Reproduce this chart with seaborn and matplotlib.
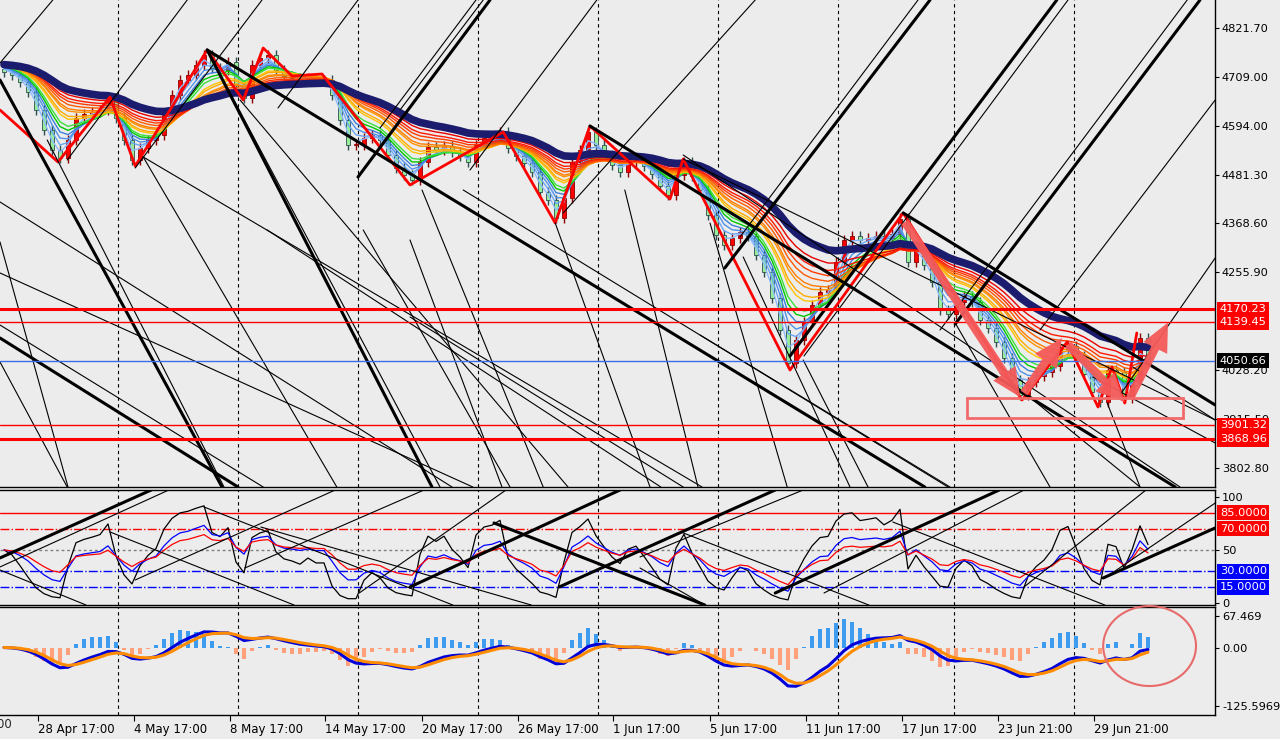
import numpy as np
import seaborn as sns
import matplotlib
matplotlib.use("Agg")
import matplotlib.pyplot as plt
from matplotlib.patches import Rectangle, Ellipse, FancyArrowPatch

# ---- price data: one bar every 8 hours (roughly two H4 candles) ----
first_open = 4726
closes = [4720, 4713, 4697, 4673, 4632, 4585, 4539, 4520, 4562, 4613,
          4622, 4627, 4632, 4655, 4613, 4562, 4516, 4544, 4562, 4574,
          4620, 4666, 4701, 4713, 4736, 4759, 4729, 4724, 4743, 4690,
          4659, 4736, 4752, 4759, 4724, 4710, 4706, 4701, 4706, 4701,
          4701, 4666, 4608, 4550, 4550, 4567, 4574, 4562, 4527, 4497,
          4481, 4469, 4511, 4546, 4539, 4548, 4534, 4525, 4511, 4550,
          4567, 4571, 4581, 4544, 4525, 4509, 4488, 4442, 4423, 4381,
          4428, 4511, 4539, 4581, 4550, 4527, 4504, 4488, 4511, 4516,
          4502, 4483, 4455, 4435, 4481, 4511, 4479, 4446, 4388, 4342,
          4319, 4335, 4349, 4340, 4296, 4256, 4196, 4122, 4045, 4099,
          4140, 4180, 4210, 4214, 4279, 4330, 4340, 4330, 4335, 4340,
          4335, 4344, 4380, 4279, 4307, 4272, 4233, 4168, 4159, 4187,
          4200, 4187, 4145, 4126, 4094, 4057, 4006, 3972, 4001, 4015,
          4024, 4038, 4075, 4085, 4061, 4020, 3978, 3955, 4029, 4024,
          3965, 4005, 4102, 4050.66]
wick = 12
ribbon_seed = 4738
rsi_seed_move = 15

# zigzag pivots (bar, price)
zz_bars = [-0.5, 6.75, 13.25, 16.4, 25.4, 29.9, 32.4, 36.0, 39.75, 50.75, 62.4,
           68.9, 73.25, 83.25, 84.9, 98.25, 112.4, 127.25, 132.9, 136.75, 138.5,
           140.1, 141.6]
zz_prices = [4631.6, 4511.1, 4661.8, 4501.8, 4770.7, 4654.8, 4775.3, 4710.4, 4715.1,
             4457.8, 4580.6, 4369.7, 4594.5, 4425.3, 4518.0, 4028.9, 4392.9, 3959.4,
             4093.8, 3943.2, 4035.9, 3952.4, 4114.7]

# drawn trend lines (bar0, price0, bar1, price1)
top_thick = [(25.4, 4770.7, 53.5, 3757.7), (-0.5, 4701.2, 27.25, 3757.7),
             (-0.5, 4103.1, 29.25, 3757.7), (73.25, 4594.5, 146.4, 3757.7),
             (25.4, 4770.7, 115.1, 3757.7), (44.25, 4476.3, 60.75, 4886.6),
             (90.1, 4265.4, 115.75, 4886.6), (98.25, 4061.4, 131.6, 4886.6),
             (118.9, 4135.6, 149.5, 4886.6), (112.4, 4392.9, 151.4, 3947.8)]
top_thin = [(-0.5, 4740.6, 6.1, 4886.6), (7.9, 4515.7, 22.9, 4886.6),
            (16.4, 4497.2, 32.25, 4886.6), (34.25, 4636.3, 44.25, 4886.6),
            (47.0, 4589.9, 59.0, 4886.6), (49.5, 4631.6, 59.9, 4886.6),
            (58.25, 4492.5, 74.1, 4886.6), (69.9, 4392.9, 93.9, 4886.6),
            (92.0, 4337.2, 114.25, 4886.6), (100.0, 4061.4, 133.0, 4886.6),
            (117.0, 4121.7, 147.9, 4886.6), (129.5, 4121.7, 151.4, 4654.8),
            (139.5, 3971.0, 151.4, 4288.6), (-0.5, 4325.6, 8.0, 3757.7),
            (-0.5, 4047.5, 7.9, 3757.7), (5.4, 4562.1, 27.5, 3757.7),
            (17.4, 4522.7, 41.6, 3757.7), (26.4, 4735.9, 54.5, 3757.7),
            (29.5, 4654.8, 70.5, 3757.7), (44.9, 4353.5, 63.25, 3757.7),
            (50.75, 4330.3, 62.25, 3757.7), (52.25, 4446.2, 67.4, 3757.7),
            (68.9, 4369.7, 80.75, 3757.7), (77.6, 4446.2, 86.75, 3757.7),
            (88.25, 4369.7, 97.9, 3757.7), (92.4, 4290.9, 105.75, 3757.7),
            (-0.5, 4418.4, 56.0, 3757.7), (-0.5, 4253.8, 58.6, 3757.7),
            (-0.5, 4133.2, 32.4, 3757.7), (17.4, 4522.7, 87.25, 3757.7),
            (32.9, 4353.5, 82.1, 3757.7), (57.4, 4446.2, 118.0, 3757.7),
            (50.75, 4151.8, 84.9, 3757.7), (84.9, 4527.3, 147.0, 3757.7),
            (87.0, 4110.1, 118.25, 3757.7), (136.1, 4012.7, 151.4, 3859.7),
            (141.1, 4035.9, 151.4, 3913.0), (99.9, 4052.1, 108.0, 3757.7),
            (118.9, 4137.9, 130.75, 3757.7), (124.5, 4022.0, 142.0, 3757.7),
            (137.9, 3952.4, 142.0, 3757.7), (84.9, 4518.0, 151.4, 3913.0)]
osc_thick = [(-0.5, 42.5, 18.4, 106.6), (50.75, 15.1, 77.0, 106.6),
             (69.4, 15.1, 96.4, 106.6), (96.4, 9.4, 124.4, 106.6),
             (137.4, 23.6, 151.4, 70.8), (61.25, 75.5, 87.6, -1.9)]
osc_thin = [(-0.5, 34.0, 20.6, 106.6), (16.4, 21.7, 41.4, 106.6),
            (30.1, 33.0, 52.5, 106.6), (44.4, 9.4, 62.75, 106.6),
            (79.5, 43.4, 99.9, 106.6), (102.5, 9.4, 127.5, 106.6),
            (127.5, 15.1, 142.75, 106.6), (137.6, 23.6, 151.4, 94.3),
            (-0.5, 31.1, 10.25, -1.9), (13.25, 67.0, 36.25, -1.9),
            (25.0, 90.6, 56.1, -1.9), (32.1, 71.7, 65.9, -1.9),
            (84.6, 67.0, 108.1, -1.9), (111.1, 76.4, 137.6, -1.9),
            (79.5, 33.0, 87.6, -1.9)]

# arrows (bar0, price0, bar1, price1) and the support box
arrows = [(112.6, 4372.0, 127.0, 3966.4), (127.5, 3975.6, 132.25, 4103.1),
          (133.0, 4087.9, 140.1, 3954.7), (140.75, 3964.0, 145.5, 4138.9)]
zone_bars = (120.4, 147.4)
zone_prices = (3918.3, 3964.7)

red_levels = [4170.23, 4139.45, 3901.32, 3868.96]
red_widths = [2.2, 1.0, 1.0, 2.2]
last_price = 4050.66
price_ticks = [4821.70, 4709.00, 4594.00, 4481.30, 4368.60, 4255.90, 4028.20, 3915.50, 3802.80]
macd_ticks = [67.469, 0.0, -125.5969]
macd_labels = ["67.469", "0.00", "-125.5969"]

grid_bars = [14.25, 29.25, 44.25, 59.25, 74.25, 89.25, 104.25, 118.75, 133.75]
date_ticks = [-8.6, 4.25, 16.25, 28.25, 40.1, 52.25, 64.25, 76.1, 88.25, 100.25,
              112.25, 124.25, 136.25]
date_labels = ["22 Apr 17:00", "28 Apr 17:00", "4 May 17:00", "8 May 17:00", "14 May 17:00",
               "20 May 17:00", "26 May 17:00", "1 Jun 17:00", "5 Jun 17:00", "11 Jun 17:00",
               "17 Jun 17:00", "23 Jun 21:00", "29 Jun 21:00"]

ribbon_periods = [2, 3, 4, 5, 6, 7, 9, 10, 12, 13, 15, 17, 19, 22]
ribbon_colors = ['#8cbcff', '#6aa6f7', '#4f92ea', '#3d80dc', '#00c800', '#3ce03c',
                 '#ffc400', '#ffaa00', '#ff9400', '#ff7c00', '#ff5a00', '#ff3a00',
                 '#ff1800', '#e80000']
navy_period = 28


def ema(values, period, start):
    out, level, k = [], start, 2.0 / (period + 1)
    for v in values:
        level = level + k * (v - level)
        out.append(level)
    return np.array(out)


def rsi(values, period, seed_move):
    gain = loss = seed_move
    out, prev = [], values[0]
    for v in values:
        d = v - prev
        gain += (max(d, 0) - gain) / period
        loss += (max(-d, 0) - loss) / period
        out.append(100 * gain / (gain + loss))
        prev = v
    return np.array(out)


closes = np.array(closes, dtype=float)
opens = np.concatenate([[first_open], closes[:-1]])
bars = np.arange(len(closes))
highs = np.maximum(opens, closes) + wick
lows = np.minimum(opens, closes) - wick

sns.set_theme(style="white", rc={"axes.facecolor": "#ececec", "figure.facecolor": "#ececec"})
plt.rcParams["font.family"] = ["DejaVu Sans"]

fig = plt.figure(figsize=(12.8, 7.39), dpi=100)
H = 739.0


def rect(top, bottom):
    return [0, 1 - bottom / H, 1215 / 1280, (bottom - top) / H]


ax_p = fig.add_axes(rect(0, 487))
ax_o = fig.add_axes(rect(490, 605))
ax_m = fig.add_axes(rect(607, 715))

for ax in (ax_p, ax_o, ax_m):
    ax.set_xlim(-0.5, 151.375)
    ax.spines["left"].set_visible(False)
    for s in ("right", "bottom", "top"):
        ax.spines[s].set_color("black")
        ax.spines[s].set_linewidth(1.0)
    ax.yaxis.tick_right()
    ax.tick_params(axis="y", direction="out", length=3, width=0.8, labelsize=8.2,
                   pad=2, colors="black", right=True, left=False)
    ax.tick_params(axis="x", bottom=False, labelbottom=False)
    for b in grid_bars:
        ax.axvline(b, color="black", lw=0.8, ls=(0, (3, 3)), zorder=1)
ax_p.spines["top"].set_visible(False)

# ---- price panel ----
ax_p.set_ylim(3757.7, 4886.6)
ax_p.set_yticks(price_ticks)
ax_p.set_yticklabels([f"{t:.2f}" for t in price_ticks])

up = closes >= opens
ax_p.vlines(bars[up], lows[up], highs[up], color="#8b0000", lw=1, zorder=3)
ax_p.vlines(bars[~up], lows[~up], highs[~up], color="#2f4f4f", lw=1, zorder=3)
body = np.maximum(np.abs(closes - opens), 2)
ax_p.bar(bars[up], body[up], bottom=np.minimum(opens, closes)[up], width=0.5,
         color="#ff0000", edgecolor="#8b0000", lw=0.6, zorder=3)
ax_p.bar(bars[~up], body[~up], bottom=np.minimum(opens, closes)[~up], width=0.5,
         color="#98ee98", edgecolor="#2f4f4f", lw=0.6, zorder=3)

for period, col in zip(ribbon_periods, ribbon_colors):
    sns.lineplot(x=bars, y=ema(closes, period, ribbon_seed), ax=ax_p, color=col,
                 lw=1, legend=False, zorder=4)
sns.lineplot(x=bars, y=ema(closes, navy_period, ribbon_seed), ax=ax_p, color="#1c1c6e",
             lw=5.5, legend=False, zorder=4.5)
sns.lineplot(x=zz_bars, y=zz_prices, ax=ax_p, color="#ff0000", lw=2, sort=False,
             estimator=None, legend=False, zorder=4.8)

for x0, y0, x1, y1 in top_thick:
    ax_p.plot([x0, x1], [y0, y1], color="black", lw=2.2, zorder=5)
for x0, y0, x1, y1 in top_thin:
    ax_p.plot([x0, x1], [y0, y1], color="black", lw=0.8, zorder=5)

for lvl, w in zip(red_levels, red_widths):
    ax_p.axhline(lvl, color="#ff0000", lw=w, zorder=5)
ax_p.axhline(last_price, color="#3a6ee8", lw=1, zorder=5)

for x0, y0, x1, y1 in arrows:
    ax_p.add_patch(FancyArrowPatch((x0, y0), (x1, y1),
                                   arrowstyle="simple,tail_width=0.5,head_width=1.6,head_length=1.7",
                                   mutation_scale=12, color="#f45a5a", alpha=0.95, lw=0,
                                   shrinkA=0, shrinkB=0, zorder=6))
ax_p.add_patch(Rectangle((zone_bars[0], zone_prices[0]), zone_bars[1] - zone_bars[0],
                         zone_prices[1] - zone_prices[0], fill=False, ec="#f26a6a",
                         lw=2, zorder=6))


def tag(ax, y, text, bg):
    ax.text(1.004, y, text, transform=ax.get_yaxis_transform(), ha="left", va="center",
            fontsize=8.2, color="white", clip_on=False, zorder=10,
            bbox=dict(boxstyle="square,pad=0.22", fc=bg, ec="none"))


for lvl in red_levels:
    tag(ax_p, lvl, f"{lvl:.2f}", "#ff0000")
tag(ax_p, last_price, f"{last_price:.2f}", "black")

# ---- oscillator panel ----
ax_o.set_ylim(-1.9, 106.6)
ax_o.set_yticks([100, 50, 0])
ax_o.set_yticklabels(["100", "50", "0"])
ax_o.axhline(85, color="#ff0000", lw=1, zorder=2)
ax_o.axhline(70, color="#ff0000", lw=1, ls="-.", zorder=2)
ax_o.axhline(50, color="#808080", lw=1, ls=(0, (2, 2)), zorder=2)
ax_o.axhline(30, color="#0000ff", lw=1, ls="-.", zorder=2)
ax_o.axhline(15, color="#0000ff", lw=1, ls="-.", zorder=2)
for x0, y0, x1, y1 in osc_thick:
    ax_o.plot([x0, x1], [y0, y1], color="black", lw=2.2, zorder=5)
for x0, y0, x1, y1 in osc_thin:
    ax_o.plot([x0, x1], [y0, y1], color="black", lw=0.8, zorder=5)
sns.lineplot(x=bars, y=rsi(closes, 4, rsi_seed_move), ax=ax_o, color="black", lw=0.9,
             legend=False, zorder=4)
sns.lineplot(x=bars, y=rsi(closes, 9, rsi_seed_move), ax=ax_o, color="#0000ff", lw=0.9,
             legend=False, zorder=4)
sns.lineplot(x=bars, y=rsi(closes, 14, rsi_seed_move), ax=ax_o, color="#ff0000", lw=0.9,
             legend=False, zorder=4)
for lvl in (85, 70):
    tag(ax_o, lvl, f"{lvl:.4f}", "#ff0000")
for lvl in (30, 15):
    tag(ax_o, lvl, f"{lvl:.4f}", "#0000ff")

# ---- MACD panel ----
macd = ema(closes, 7, closes[0]) - ema(closes, 14, closes[0])
signal = ema(macd, 3, 0.0)
hist = 4 * (macd - signal)
ax_m.set_ylim(-144.8, 86.9)
ax_m.set_yticks(macd_ticks)
ax_m.set_yticklabels(macd_labels)
ax_m.bar(bars, hist, width=0.55, color=np.where(hist >= 0, "#3d9cf0", "#ffa07a"),
         lw=0, zorder=2)
sns.lineplot(x=bars, y=macd, ax=ax_m, color="#0000d8", lw=2.2, legend=False, zorder=3)
sns.lineplot(x=bars, y=signal, ax=ax_m, color="#ff8c00", lw=2.2, legend=False, zorder=3.5)
ax_m.add_patch(Ellipse((143.2, 3.2), 11.6, 171.6, fill=False, ec="#e86a6a", lw=1.5,
                       clip_on=False, zorder=6))

ax_m.tick_params(axis="x", bottom=True, labelbottom=True, direction="out", length=4,
                 width=0.8, labelsize=8.5, pad=2, colors="black")
ax_m.set_xticks(date_ticks[1:])
ax_m.set_xticklabels(date_labels[1:], ha="left")
ax_m.text(date_ticks[0], -0.03, date_labels[0], transform=ax_m.get_xaxis_transform(),
          ha="left", va="top", fontsize=8.5, clip_on=False)

for ax in (ax_p, ax_o, ax_m):
    ax.set_xlabel("")
    ax.set_ylabel("")

fig.savefig("out.png", dpi=100, facecolor="#ececec")
